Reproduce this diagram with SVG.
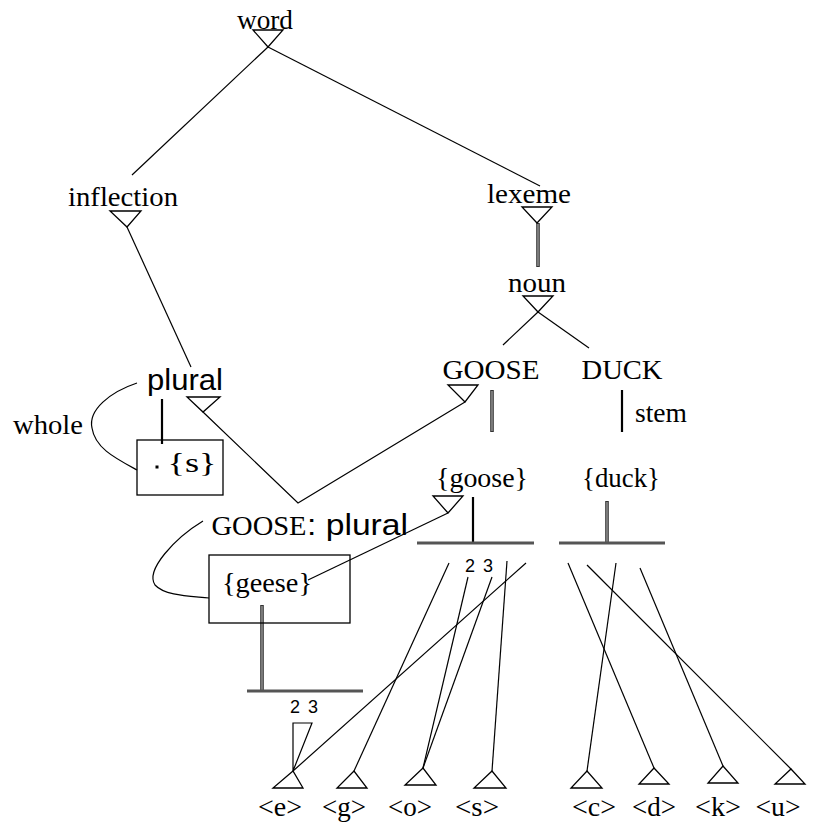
<svg xmlns="http://www.w3.org/2000/svg" width="819" height="827" viewBox="0 0 819 827">
  <style>
    .t { font-family: "Liberation Serif", "Times New Roman", serif; font-size: 28px; fill: #000; text-anchor: middle; }
    .a { font-family: "Liberation Sans", Arial, sans-serif; fill: #000; }
    .ln { stroke: #000; stroke-width: 1.2; fill: none; }
    .tri { stroke: #000; stroke-width: 1.3; fill: #fff; stroke-linejoin: miter; }
    .box { stroke: #000; stroke-width: 1.3; fill: none; }
    .dbl-o { stroke: #333; stroke-width: 3.6; fill: none; }
    .dbl-i { stroke: #aaa; stroke-width: 1.2; fill: none; }
    .bar { stroke: #555; stroke-width: 3.2; fill: none; }
    .solid { stroke: #000; stroke-width: 2.2; fill: none; }
  </style>

  <!-- connectors -->
  <g id="connectors">
    <!-- isa links -->
    <line class="ln" x1="268" y1="47" x2="132" y2="175"/>
    <line class="ln" x1="268" y1="47" x2="540" y2="186"/>
    <line class="ln" x1="127" y1="227" x2="191" y2="367"/>
    <line class="ln" x1="538" y1="312" x2="503" y2="345"/>
    <line class="ln" x1="538" y1="312" x2="589" y2="348"/>
    <polyline class="ln" points="203,412 298,503 465,402"/>
    <line class="ln" x1="448" y1="513" x2="308" y2="580"/>
    <!-- lexeme to noun -->
    <line class="dbl-o" x1="538" y1="223" x2="538" y2="267"/>
    <line class="dbl-i" x1="538" y1="224" x2="538" y2="266"/>
    <!-- stem links -->
    <line class="dbl-o" x1="492" y1="390" x2="492" y2="432"/>
    <line class="dbl-i" x1="492" y1="391" x2="492" y2="431"/>
    <line class="solid" x1="622" y1="390" x2="622" y2="432"/>
    <!-- whole -->
    <line class="solid" x1="162" y1="399" x2="162" y2="444"/>
    <path class="ln" d="M137,383 C110,392 88,410 92,428 C95,448 115,458 137,470"/>
    <path class="ln" d="M203,521 C175,538 145,570 155,585 C165,596 190,596 209,598"/>
    <!-- letter bars -->
    <line class="solid" x1="473" y1="497" x2="473" y2="543"/>
    <line class="bar" x1="417" y1="543" x2="534" y2="543"/>
    <line class="dbl-o" x1="607" y1="501" x2="607" y2="543"/>
    <line class="dbl-i" x1="607" y1="502" x2="607" y2="542"/>
    <line class="bar" x1="559" y1="543" x2="665" y2="543"/>
    <line class="dbl-o" x1="262" y1="605" x2="262" y2="691"/>
    <line class="dbl-i" x1="262" y1="606" x2="262" y2="690"/>
    <line class="bar" x1="247" y1="691" x2="363" y2="691"/>
    <!-- letter links -->
    <line class="ln" x1="449" y1="563" x2="354" y2="771"/>
    <line class="ln" x1="468" y1="577" x2="423" y2="768"/>
    <line class="ln" x1="492" y1="577" x2="423" y2="768"/>
    <line class="ln" x1="507" y1="561" x2="492" y2="771"/>
    <line class="ln" x1="526" y1="563" x2="293" y2="771"/>
    <line class="ln" x1="568" y1="563" x2="654" y2="768"/>
    <line class="ln" x1="616" y1="563" x2="587" y2="771"/>
    <line class="ln" x1="587" y1="565" x2="791" y2="769"/>
    <line class="ln" x1="640" y1="568" x2="723" y2="766"/>
    <polygon class="ln" points="293,723 312,723 293,771"/>
  </g>

  <!-- word -->
  <g id="word">
    <text class="t" x="265" y="29" textLength="56" lengthAdjust="spacingAndGlyphs">word</text>
    <polygon class="tri" points="253,30 283,30 268,47"/>
  </g>

  <g id="inflection">
    <text class="t" x="123" y="206" textLength="110" lengthAdjust="spacingAndGlyphs">inflection</text>
    <polygon class="tri" points="110,211 141,211 127,227"/>
  </g>

  <g id="lexeme">
    <text class="t" x="529" y="203" textLength="84" lengthAdjust="spacingAndGlyphs">lexeme</text>
    <polygon class="tri" points="522,207 552,207 537,223"/>
  </g>

  <g id="noun">
    <text class="t" x="537" y="292" textLength="58" lengthAdjust="spacingAndGlyphs">noun</text>
    <polygon class="tri" points="523,296 553,296 538,312"/>
  </g>

  <g id="goose">
    <text class="t" x="491" y="379" textLength="97" lengthAdjust="spacingAndGlyphs">GOOSE</text>
    <polygon class="tri" points="448,385 478,385 465,402"/>
  </g>

  <g id="duck">
    <text class="t" x="622" y="379" textLength="81" lengthAdjust="spacingAndGlyphs">DUCK</text>
    <text class="t" x="661" y="422" textLength="52" lengthAdjust="spacingAndGlyphs">stem</text>
  </g>

  <g id="goose-form">
    <text class="t" x="482" y="487" textLength="92" lengthAdjust="spacingAndGlyphs">{goose}</text>
    <polygon class="tri" points="433,496 463,496 448,513"/>
  </g>

  <g id="duck-form">
    <text class="t" x="621" y="487" textLength="78" lengthAdjust="spacingAndGlyphs">{duck}</text>
  </g>

  <g id="plural">
    <text class="a" x="147" y="390" font-size="29" textLength="76" lengthAdjust="spacingAndGlyphs">plural</text>
    <polygon class="tri" points="187,397 220,397 203,412"/>
    <text class="t" x="48" y="434" textLength="70" lengthAdjust="spacingAndGlyphs">whole</text>
  </g>

  <g id="s-form">
    <rect class="box" x="137" y="440" width="86" height="55"/>
    <rect x="155.5" y="465.5" width="3" height="3" fill="#000"/>
    <text class="t" x="192" y="472" textLength="49" lengthAdjust="spacingAndGlyphs">{s}</text>
  </g>

  <g id="goose-plural">
    <text class="t" x="259" y="535" textLength="95" lengthAdjust="spacingAndGlyphs">GOOSE</text>
    <text class="a" x="307" y="535" font-size="29" textLength="101" lengthAdjust="spacingAndGlyphs">: plural</text>
  </g>

  <g id="geese-form">
    <rect class="box" x="209" y="555" width="141" height="68"/>
    <text class="t" x="267" y="592" textLength="90" lengthAdjust="spacingAndGlyphs">{geese}</text>
  </g>

  <g id="positions">
    <text class="a" x="465" y="572" font-size="18" textLength="28" lengthAdjust="spacing">2 3</text>
    <text class="a" x="290" y="713" font-size="18" textLength="28" lengthAdjust="spacing">2 3</text>
  </g>

  <!-- letters -->
  <g id="letter-e">
    <polygon class="tri" points="273,788 303,788 293,771"/>
    <text class="t" x="280" y="816" textLength="44" lengthAdjust="spacingAndGlyphs">&lt;e&gt;</text>
  </g>
  <g id="letter-g">
    <polygon class="tri" points="337,788 367,788 354,771"/>
    <text class="t" x="344" y="816" textLength="44" lengthAdjust="spacingAndGlyphs">&lt;g&gt;</text>
  </g>
  <g id="letter-o">
    <polygon class="tri" points="405,785 436,785 423,768"/>
    <text class="t" x="410" y="816" textLength="44" lengthAdjust="spacingAndGlyphs">&lt;o&gt;</text>
  </g>
  <g id="letter-s">
    <polygon class="tri" points="474,788 506,788 492,771"/>
    <text class="t" x="477" y="816" textLength="44" lengthAdjust="spacingAndGlyphs">&lt;s&gt;</text>
  </g>
  <g id="letter-c">
    <polygon class="tri" points="571,788 602,788 587,771"/>
    <text class="t" x="594" y="816" textLength="44" lengthAdjust="spacingAndGlyphs">&lt;c&gt;</text>
  </g>
  <g id="letter-d">
    <polygon class="tri" points="639,784 669,784 654,768"/>
    <text class="t" x="654" y="816" textLength="44" lengthAdjust="spacingAndGlyphs">&lt;d&gt;</text>
  </g>
  <g id="letter-k">
    <polygon class="tri" points="708,783 738,783 723,766"/>
    <text class="t" x="718" y="816" textLength="46" lengthAdjust="spacingAndGlyphs">&lt;k&gt;</text>
  </g>
  <g id="letter-u">
    <polygon class="tri" points="775,784 805,784 791,769"/>
    <text class="t" x="778" y="816" textLength="45" lengthAdjust="spacingAndGlyphs">&lt;u&gt;</text>
  </g>
</svg>
